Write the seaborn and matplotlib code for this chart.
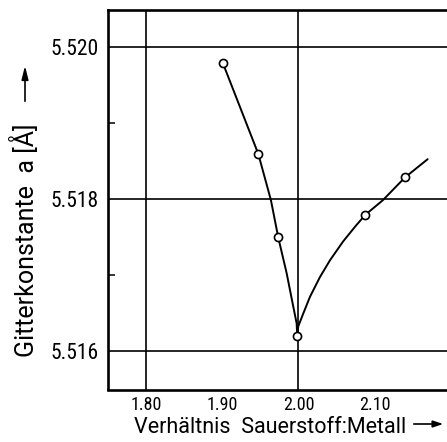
import matplotlib
matplotlib.use("Agg")
import matplotlib.pyplot as plt
from matplotlib import font_manager
from matplotlib.patches import FancyArrowPatch
import seaborn as sns
import pandas as pd

# Measured lattice constants (open circles)
ratio_pts = [1.901, 1.9473, 1.9735, 1.9984, 2.0879, 2.1397]
lattice_pts = [5.51979, 5.51860, 5.51750, 5.51620, 5.51780, 5.51829]

# Trend curve, hypo-stoichiometric branch
ratio_left = [1.901, 1.9473, 1.9639, 1.9735, 1.9845, 1.9932, 1.9976, 1.9984]
lattice_left = [5.51979, 5.51860, 5.51799, 5.51750, 5.51703, 5.51659, 5.51637, 5.51620]

# Trend curve, hyper-stoichiometric branch
ratio_right = [1.9984, 1.9997, 2.0063, 2.0151, 2.0282, 2.0413, 2.0587, 2.0757,
               2.0879, 2.1106, 2.1397, 2.1694]
lattice_right = [5.51620, 5.51633, 5.51650, 5.51672, 5.51698, 5.51720, 5.51745,
                 5.51766, 5.51780, 5.51799, 5.51829, 5.51853]

x_ticks = [1.80, 1.90, 2.00, 2.10]
x_tick_labels = ["1.80", "1.90", "2.00", "2.10"]
x_grid = [1.80, 2.00]
y_ticks = [5.516, 5.518, 5.520]
y_tick_labels = ["5.516", "5.518", "5.520"]
y_minor = [5.517, 5.519]

sns.set_theme(style="white")
installed = {f.name for f in font_manager.fontManager.ttflist}


def pick(*names):
    return [n for n in names if n in installed] + ["DejaVu Sans"]


narrow = pick("Roboto Condensed", "Liberation Sans Narrow", "DejaVu Sans Condensed", "Roboto")
regular = pick("Roboto", "Liberation Sans")
plt.rcParams["font.family"] = regular
plt.rcParams["text.color"] = "black"
plt.rcParams["xtick.color"] = "black"
plt.rcParams["ytick.color"] = "black"

fig = plt.figure(figsize=(4.47, 4.42), dpi=100)
ax = fig.add_axes([108 / 447, 52.5 / 442, 1 - 108 / 447, 379.5 / 442])

pts = pd.DataFrame({"ratio": ratio_pts, "a": lattice_pts})
left = pd.DataFrame({"ratio": ratio_left, "a": lattice_left})
right = pd.DataFrame({"ratio": ratio_right, "a": lattice_right})

for part in (left, right):
    sns.lineplot(data=part, x="ratio", y="a", sort=False, estimator=None,
                 color="black", linewidth=1.4, ax=ax, zorder=3)
sns.scatterplot(data=pts, x="ratio", y="a", marker="o", s=34,
                facecolor="white", edgecolor="black", linewidth=1.2,
                ax=ax, zorder=4)

ax.set_xlim(1.7502, 2.1948)
ax.set_ylim(5.5155, 5.520493)

for xv in x_grid:
    ax.axvline(xv, color="black", linewidth=1.2, zorder=1)
for yv in y_ticks:
    ax.axhline(yv, color="black", linewidth=1.2, zorder=1)

ax.set_xticks(x_ticks)
ax.set_xticklabels(x_tick_labels, fontsize=13, family=narrow)
ax.set_yticks(y_ticks)
ax.set_yticklabels(y_tick_labels, fontsize=15.5, family=narrow)
ax.set_yticks(y_minor, minor=True)
ax.tick_params(axis="x", length=0, pad=5)
ax.tick_params(axis="y", which="major", length=0, pad=7)
ax.tick_params(axis="y", which="minor", direction="in", length=5, width=1.1,
               left=True, color="black")
ax.set_xlabel("")
ax.set_ylabel("")

for side in ("left", "top", "bottom"):
    ax.spines[side].set_visible(True)
    ax.spines[side].set_color("black")
    ax.spines[side].set_linewidth(1.9)
ax.spines["right"].set_visible(False)

fig.text(270 / 447, (442 - 433) / 442, "Verhältnis  Sauerstoff:Metall",
         ha="center", va="baseline", fontsize=15.5, family=regular)
fig.text(25 / 447, (442 - 240) / 442, "Gitterkonstante  a [Å]",
         ha="center", va="center", rotation=90, fontsize=18, family=regular)

# direction arrows beside the axis titles
fig.add_artist(FancyArrowPatch(
    (411 / 447, (442 - 424) / 442), (446 / 447, (442 - 424) / 442),
    transform=fig.transFigure, arrowstyle="-|>,head_length=6,head_width=2",
    color="black", linewidth=1.2))
fig.add_artist(FancyArrowPatch(
    (25 / 447, (442 - 104) / 442), (25 / 447, (442 - 63) / 442),
    transform=fig.transFigure, arrowstyle="-|>,head_length=8,head_width=2",
    color="black", linewidth=1.2))

fig.savefig("out.png", dpi=100)
